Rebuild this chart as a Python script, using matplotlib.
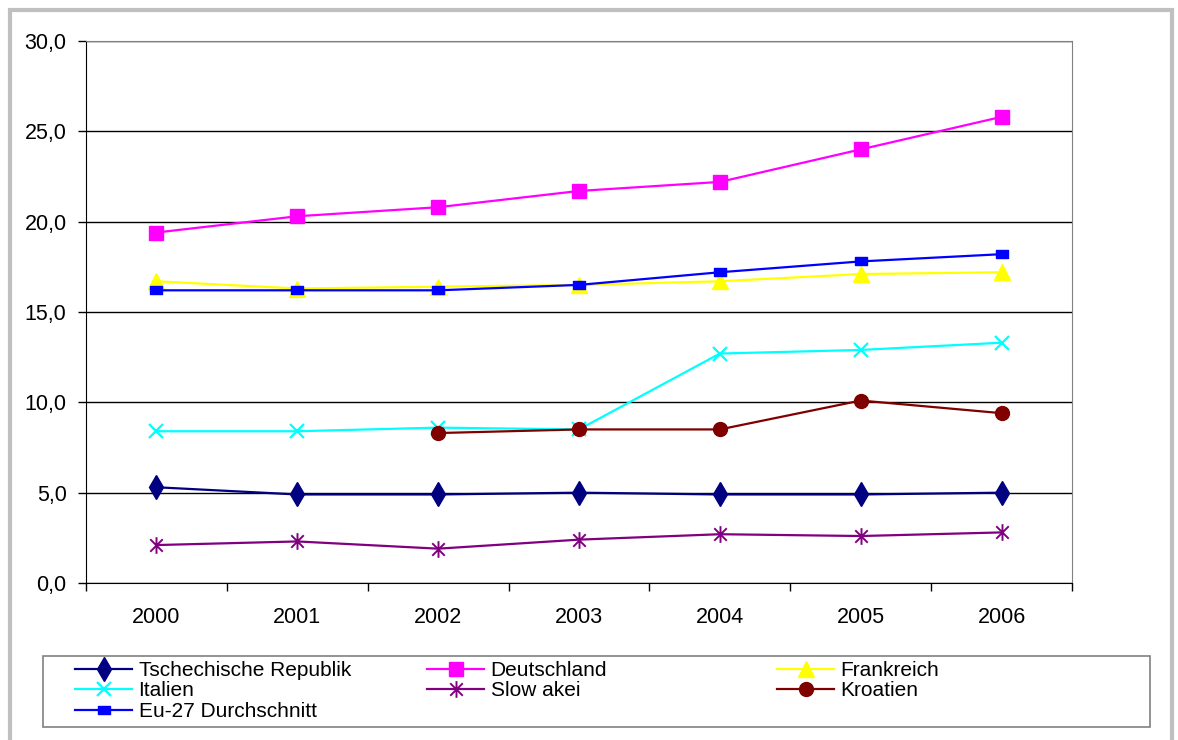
import matplotlib
matplotlib.use("Agg")
import matplotlib.pyplot as plt
import numpy as np
from matplotlib.patches import Rectangle
from matplotlib.path import Path
from matplotlib.ticker import FuncFormatter

plt.rcParams["font.family"] = ["Liberation Sans", "DejaVu Sans"]

years = ["2000", "2001", "2002", "2003", "2004", "2005", "2006"]
tschechien = [5.3, 4.9, 4.9, 5.0, 4.9, 4.9, 5.0]
deutschland = [19.4, 20.3, 20.8, 21.7, 22.2, 24.0, 25.8]
frankreich = [16.7, 16.3, 16.4, 16.5, 16.7, 17.1, 17.2]
italien = [8.4, 8.4, 8.6, 8.5, 12.7, 12.9, 13.3]
slowakei = [2.1, 2.3, 1.9, 2.4, 2.7, 2.6, 2.8]
kroatien = [np.nan, np.nan, 8.3, 8.5, 8.5, 10.1, 9.4]
eu27 = [16.2, 16.2, 16.2, 16.5, 17.2, 17.8, 18.2]

labels = ["Tschechische Republik", "Deutschland", "Frankreich", "Italien",
          "Slow akei", "Kroatien", "Eu-27 Durchschnitt"]

# Excel-like markers
rect_marker = [(-1.5, -1), (1.5, -1), (1.5, 1), (-1.5, 1), (-1.5, -1)]
star_marker = Path([(0, -1), (0, 1), (-0.75, -0.75), (0.75, 0.75), (-0.75, 0.75), (0.75, -0.75)],
                   [Path.MOVETO, Path.LINETO] * 3)

series = [
    (tschechien, "#000080", dict(marker="d", markersize=12)),
    (deutschland, "#FF00FF", dict(marker="s", markersize=10)),
    (frankreich, "#FFFF00", dict(marker="^", markersize=11)),
    (italien, "#00FFFF", dict(marker="x", markersize=10, markeredgewidth=1.6)),
    (slowakei, "#800080", dict(marker=star_marker, markersize=12, markeredgewidth=1.4)),
    (kroatien, "#800000", dict(marker="o", markersize=10)),
    (eu27, "#0000FF", dict(marker=rect_marker, markersize=9)),
]

fig = plt.figure(figsize=(11.78, 7.40), dpi=100)
ax = fig.add_axes([86 / 1178, 1 - 583 / 740, (1072 - 86) / 1178, (583 - 41) / 740])

x = np.arange(len(years))
handles = []
for vals, col, mk in series:
    h, = ax.plot(x, vals, color=col, lw=1.6, markerfacecolor=col, markeredgecolor=col, **mk)
    handles.append(h)

ax.set_xlim(-0.5, len(years) - 0.5)
ax.set_ylim(0, 30)
ax.set_yticks(np.arange(0, 31, 5))
ax.yaxis.set_major_formatter(FuncFormatter(lambda v, p: f"{v:.1f}".replace(".", ",")))
ax.set_xticks(x)
ax.set_xticklabels(years)
ax.set_xticks(np.arange(-0.5, len(years), 1), minor=True)
ax.tick_params(axis="x", which="major", length=0, pad=17, labelsize=15.5)
ax.tick_params(axis="x", which="minor", length=6, width=1, direction="out")
ax.tick_params(axis="y", length=6, width=1, direction="out", pad=8, labelsize=15.5)
ax.grid(axis="y", color="black", lw=1)
ax.set_axisbelow(True)
for s in ("top", "right"):
    ax.spines[s].set_color("#808080")
for s in ("left", "bottom"):
    ax.spines[s].set_color("black")

# legend: three columns at fixed positions
cols = [[0, 3, 6], [1, 4], [2, 5]]
xs = [75, 427, 777]
for idxs, x0 in zip(cols, xs):
    fig.legend([handles[i] for i in idxs], [labels[i] for i in idxs],
               loc="upper left", bbox_to_anchor=(x0 / 1178, 1 - 661 / 740),
               frameon=False, borderpad=0, borderaxespad=0, handlelength=2.75,
               handletextpad=0.3, labelspacing=0.07, fontsize=15)

fig.patches.append(Rectangle((43 / 1178, 1 - 727 / 740), (1150 - 43) / 1178, 71 / 740,
                             transform=fig.transFigure, fill=False,
                             edgecolor="#808080", lw=1.2))
fig.patches.append(Rectangle((10 / 1178, -0.05), (1172 - 10) / 1178, 1.05 - 10 / 740,
                             transform=fig.transFigure, fill=False,
                             edgecolor="#C0C0C0", lw=3))

fig.savefig("out.png", dpi=100)
